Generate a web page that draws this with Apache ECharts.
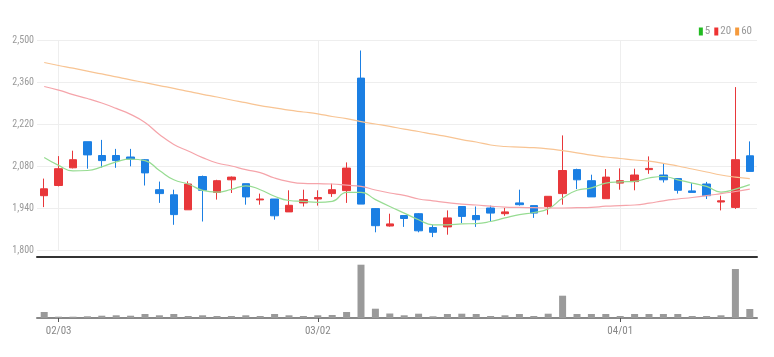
<!DOCTYPE html>
<html>
<head>
<meta charset="utf-8">
<script src="https://cdn.jsdelivr.net/npm/echarts@6/dist/echarts.min.js"></script>
<style>
html,body{margin:0;padding:0;background:#fff;}
#chart{width:774px;height:357px;}
</style>
</head>
<body>
<div id="chart"></div>
<script>
var dates = ['01/28','02/03','02/04','02/07','02/08','02/09','02/10','02/11','02/14','02/15',
  '02/16','02/17','02/18','02/21','02/22','02/23','02/24','02/25','02/28','03/02',
  '03/03','03/04','03/07','03/08','03/10','03/11','03/14','03/15','03/16','03/17',
  '03/18','03/21','03/22','03/23','03/24','03/25','03/28','03/29','03/30','03/31',
  '04/01','04/04','04/05','04/06','04/07','04/08','04/11','04/12','04/13','04/14'];
var tickLabels = ['02/03','03/02','04/01'];
var opens  = [1981,2015,2074,2161,2115,2115,2110,2101,2001,1984,1934,2045,1992,2034,2021,1967,1970,1927,1957,1970,
  1988,1998,2373,1938,1880,1915,1921,1875,1877,1945,1915,1940,1921,1957,1948,1945,1988,2068,2031,1971,
  2023,2028,2068,2050,2038,1997,2020,1960,1942,2114];
var closes = [2004,2071,2101,2117,2098,2098,2103,2057,1988,1918,2020,1999,2031,2043,1977,1970,1914,1949,1968,1975,
  2001,2073,1953,1881,1887,1905,1864,1859,1907,1912,1901,1923,1927,1951,1923,1979,2065,2034,1977,2043,
  2031,2050,2072,2034,1999,1992,1981,1964,2101,2062];
var lows   = [1943,2012,2072,2071,2075,2074,2079,2015,1957,1884,1934,1895,1968,1990,1951,1951,1901,1927,1945,1948,
  1977,1957,1953,1859,1878,1877,1859,1843,1851,1890,1877,1895,1914,1948,1907,1918,1951,2003,1977,1971,
  2001,1999,2054,2025,1988,1992,1970,1932,1937,2062];
var highs  = [2038,2113,2131,2161,2167,2137,2137,2103,2028,2001,2029,2048,2034,2045,2021,1988,1970,1999,2001,1999,
  2021,2092,2465,1940,1921,1915,1923,1884,1932,1945,1945,1948,1940,2001,1948,1979,2182,2071,2051,2070,
  2072,2071,2112,2090,2038,2023,2027,1981,2343,2162];
var ma5  = [2108,2082,2064,2065,2077,2094,2103,2098,2065,2034,2020,1999,1993,2002,2014,2001,1979,1965,1962,1959,
  1962,1992,1992,1968,1945,1923,1901,1884,1884,1887,1888,1895,1907,1918,1925,1937,1973,1999,2007,2023,
  2027,2029,2040,2045,2034,2023,2012,1993,2003,2018];
var ma20 = [2345,2333,2318,2305,2290,2272,2252,2225,2185,2152,2130,2108,2090,2080,2068,2058,2040,2028,2022,2021,
  2020,2016,2012,2000,1990,1982,1970,1964,1958,1953,1950,1946,1943,1942,1941,1940,1940,1941,1942,1946,
  1948,1950,1956,1964,1970,1975,1981,1988,1995,2003];
var ma60 = [2425,2415,2406,2396,2387,2377,2367,2358,2348,2339,2329,2319,2310,2300,2291,2281,2274,2266,2260,2254,
  2245,2238,2228,2220,2212,2203,2195,2186,2178,2168,2160,2150,2145,2143,2141,2137,2131,2124,2116,2110,
  2105,2100,2096,2089,2080,2070,2060,2050,2043,2038];
var volumes = [600,130,130,170,230,270,230,400,270,400,200,270,200,200,270,200,400,270,200,270,
  300,600,5330,930,450,270,430,170,400,430,400,200,270,400,200,430,2230,400,400,400,
  200,400,400,400,400,200,200,270,4900,900];

var FONT = "'Liberation Sans Narrow','Roboto Condensed','Liberation Sans',sans-serif";
var candleData = dates.map(function(d, i){ return [opens[i], closes[i], lows[i], highs[i]]; });
function isTick(idx, val){ return tickLabels.indexOf(val) >= 0; }

var chart = echarts.init(document.getElementById('chart'), null, {renderer:'canvas'});
chart.setOption({
  animation: false,
  backgroundColor: '#fff',
  textStyle: {fontFamily: FONT},
  legend: {
    right: 17, top: 21, icon: 'rect', itemWidth: 4, itemHeight: 8, itemGap: 4,
    textStyle: {color: '#999', fontSize: 11, fontFamily: FONT, padding: [0,0,0,-3]},
    data: ['5','20','60']
  },
  grid: [
    {left: 37, right: 17, top: 40, height: 210},
    {left: 37, right: 17, top: 257, height: 61}
  ],
  xAxis: [
    {type: 'category', gridIndex: 0, data: dates, boundaryGap: true,
     axisLine: {show: false}, axisTick: {show: false}, axisLabel: {show: false},
     splitLine: {show: false}},
    {type: 'category', gridIndex: 1, data: dates, boundaryGap: true, position: 'bottom',
     axisLine: {show: true, lineStyle: {color: '#888', width: 2}},
     axisTick: {show: true, interval: isTick, alignWithLabel: true, length: 4, lineStyle: {color: '#555'}},
     axisLabel: {show: true, interval: isTick, color: '#888', fontSize: 11, fontFamily: FONT, margin: 8},
     splitLine: {show: false}},
    {type: 'category', gridIndex: 1, data: dates, boundaryGap: true, position: 'top',
     axisLine: {show: true, lineStyle: {color: '#333', width: 2}},
     axisTick: {show: false}, axisLabel: {show: false}, splitLine: {show: false}}
  ],
  yAxis: [
    {type: 'value', gridIndex: 0, min: 1800, max: 2500, interval: 140, scale: true,
     axisLine: {show: false}, axisTick: {show: false},
     axisLabel: {color: '#999', fontSize: 10, fontFamily: FONT, margin: 3,
       formatter: function(v){ return v.toLocaleString('en-US'); }},
     splitLine: {lineStyle: {color: '#eeeeee'}}},
    {type: 'value', gridIndex: 1, min: 0, max: 6100, show: false, splitLine: {show: false}}
  ],
  series: [
    {type: 'line', name: 'grid', xAxisIndex: 0, yAxisIndex: 0, data: [], z: 0, silent: true,
     markLine: {silent: true, z: 0, symbol: ['none','none'], label: {show: false},
       lineStyle: {color: '#eeeeee', type: 'solid', width: 1},
       data: tickLabels.map(function(t){ return {xAxis: t}; })}},
    {type: 'candlestick', name: 'price', xAxisIndex: 0, yAxisIndex: 0, data: candleData, barWidth: 8, z: 2,
     itemStyle: {color: '#e8373a', color0: '#1b7fe3', borderColor: '#e8373a', borderColor0: '#1b7fe3', borderWidth: 1}},
    {type: 'line', name: '5', data: ma5, smooth: true, showSymbol: false, symbol: 'none',
     itemStyle: {color: '#22bb22'}, lineStyle: {color: '#97dc92', width: 1.2}, z: 3},
    {type: 'line', name: '20', data: ma20, smooth: true, showSymbol: false, symbol: 'none',
     itemStyle: {color: '#ee3333'}, lineStyle: {color: '#f5a4aa', width: 1.2}, z: 3},
    {type: 'line', name: '60', data: ma60, smooth: true, showSymbol: false, symbol: 'none',
     itemStyle: {color: '#f59a3c'}, lineStyle: {color: '#f8c493', width: 1.2}, z: 3},
    {type: 'bar', name: 'vol', xAxisIndex: 1, yAxisIndex: 1, data: volumes, barWidth: 7,
     itemStyle: {color: '#9a9a9a'}}
  ]
});
</script>
</body>
</html>
